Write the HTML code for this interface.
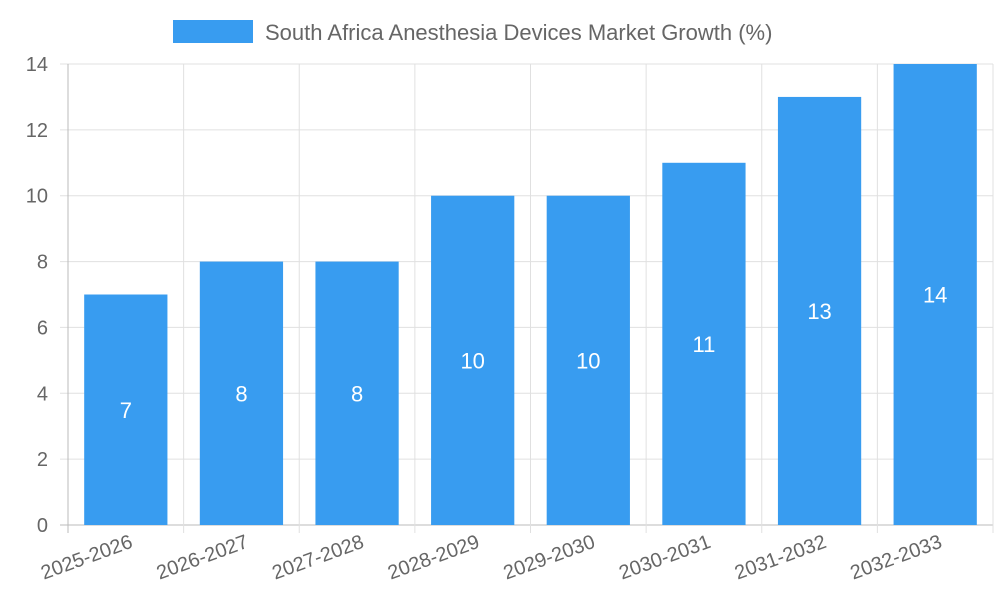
<!DOCTYPE html>
<html><head><meta charset="utf-8"><style>
body{margin:0;background:#fff;}
svg{display:block;font-family:"Liberation Sans",sans-serif;}
</style></head><body>
<svg id="chart" width="1000" height="600">
<g id="legend">
<rect x="173" y="20" width="80" height="23" fill="#389cf0"></rect>
<text x="265" y="40" font-size="22" fill="#666">South Africa Anesthesia Devices Market Growth (%)</text>
</g>
<g id="grid"></g><g id="bars"></g><g id="labels"></g>
</svg>
<script>
const categories=["2025-2026","2026-2027","2027-2028","2028-2029","2029-2030","2030-2031","2031-2032","2032-2033"];
const values=[7,8,8,10,10,11,13,14];
const yTicks=[0,2,4,6,8,10,12,14];
const L=68,R=993,T=64,B=525,yMax=14;
const ns="http://www.w3.org/2000/svg";
const band=(R-L)/categories.length;
const x=i=>L+band*i;
const y=v=>B-(v/yMax)*(B-T);
function mk(tag,attrs,parent){const e=document.createElementNS(ns,tag);for(const k in attrs)e.setAttribute(k,attrs[k]);parent.appendChild(e);return e;}
const grid=document.getElementById('grid'),bars=document.getElementById('bars'),labels=document.getElementById('labels');
yTicks.forEach(t=>{
const ln=mk('line',{x1:L-8,x2:R,y1:y(t),y2:y(t),stroke:t===0?'#bbb':'#e0e0e0','stroke-width':1},grid);


const tx=mk('text',{x:L-20,y:y(t)+7,'text-anchor':'end','font-size':20,fill:'#666'},labels);
tx.textContent=t;


});
for(let i=0;i<=categories.length;i++){
const ln=mk('line',{x1:x(i),x2:x(i),y1:T,y2:B+8,stroke:i===0?'#bbb':'#e0e0e0','stroke-width':1},grid);


}
categories.forEach((c,i)=>{
const bw=band*0.72,cx=x(i)+band/2;
const r=mk('rect',{x:cx-bw/2,y:y(values[i]),width:bw,height:B-y(values[i]),fill:'#389cf0'},bars);


const v=mk('text',{x:cx,y:(y(values[i])+B)/2+8,'text-anchor':'middle','font-size':22,fill:'#fff'},labels);
v.textContent=values[i];


const tl=mk('text',{x:cx+8,y:B+22,'text-anchor':'end','font-size':20,fill:'#666',transform:`rotate(-20 ${cx+8} ${B+22})`},labels);
tl.textContent=c;


});
</script>
</body></html>
